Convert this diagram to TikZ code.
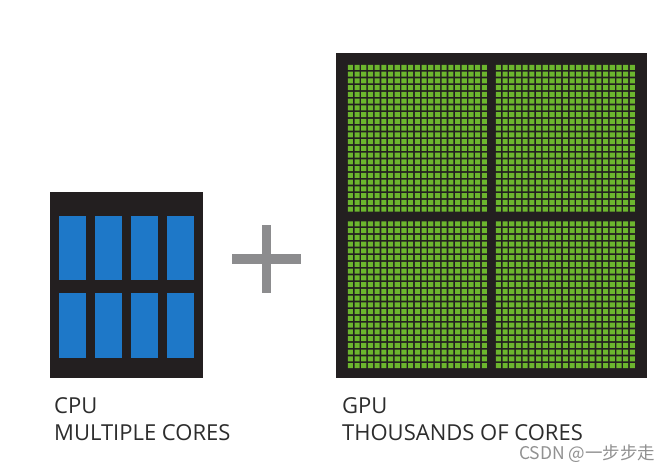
\documentclass[tikz,border=0pt]{standalone}
\usepackage{fontspec}
\setmainfont{Open Sans}
\newfontfamily\cjk{Noto Sans CJK SC}
\definecolor{chipdark}{RGB}{35,31,32}
\definecolor{coreblue}{RGB}{30,120,200}
\definecolor{coregreen}{RGB}{108,182,46}
\definecolor{plusgray}{RGB}{140,140,142}
\definecolor{labelgray}{RGB}{45,45,45}
\definecolor{markgray}{RGB}{145,145,145}
\tikzset{
  chip/.style={fill=chipdark, inner sep=0pt, outer sep=0pt},
  cpucore/.style={fill=coreblue},
  gpucore/.style={fill=coregreen},
  plusbar/.style={fill=plusgray},
  caption/.style={text=labelgray, inner sep=0pt, font=\fontsize{22}{26}\selectfont},
}

\begin{document}
\begin{tikzpicture}[x=1pt,y=-1pt]
\useasboundingbox[fill=white] (0,0) rectangle (669,470);

% cpu with eight cores
\node[chip, minimum width=153pt, minimum height=186pt] (cpu) at (126.5,285) {};
\foreach \i in {0,...,3} {
  \fill[cpucore] (59+36*\i,216) rectangle ++(27,64);
  \fill[cpucore] (59+36*\i,293) rectangle ++(27,65);
}

% plus
\fill[plusbar] (262,225) rectangle (271,293);
\fill[plusbar] (232,254) rectangle (301,264);

% gpu with four blocks of small cores
\node[chip, minimum width=311pt, minimum height=325pt] (gpu) at (491.5,215.5) {};
\foreach \qx in {347,495} {
  \foreach \qy in {64,220.5} {
    \fill[gpucore] \foreach \c in {0,...,20} {
      \foreach \r in {0,...,21} {
        (\qx+6.7*\c+0.8,\qy+6.75*\r+0.8) rectangle ++(5.1,5.15)
      }
    };
  }
}

\node[caption, anchor=base west] (cpuname) at (54,413) {CPU};
\node[caption, anchor=base west] (cpucores) at (54,440) {MULTIPLE CORES};
\node[caption, anchor=base west] (gpuname) at (342,413) {GPU};
\node[caption, anchor=base west] (gpucores) at (342,440) {THOUSANDS OF CORES};

\node[text=markgray, inner sep=0pt, anchor=base west, font=\cjk\fontsize{17.5}{20}\selectfont] (mark) at (519,459) {CSDN @一步步走};
\end{tikzpicture}
\end{document}
